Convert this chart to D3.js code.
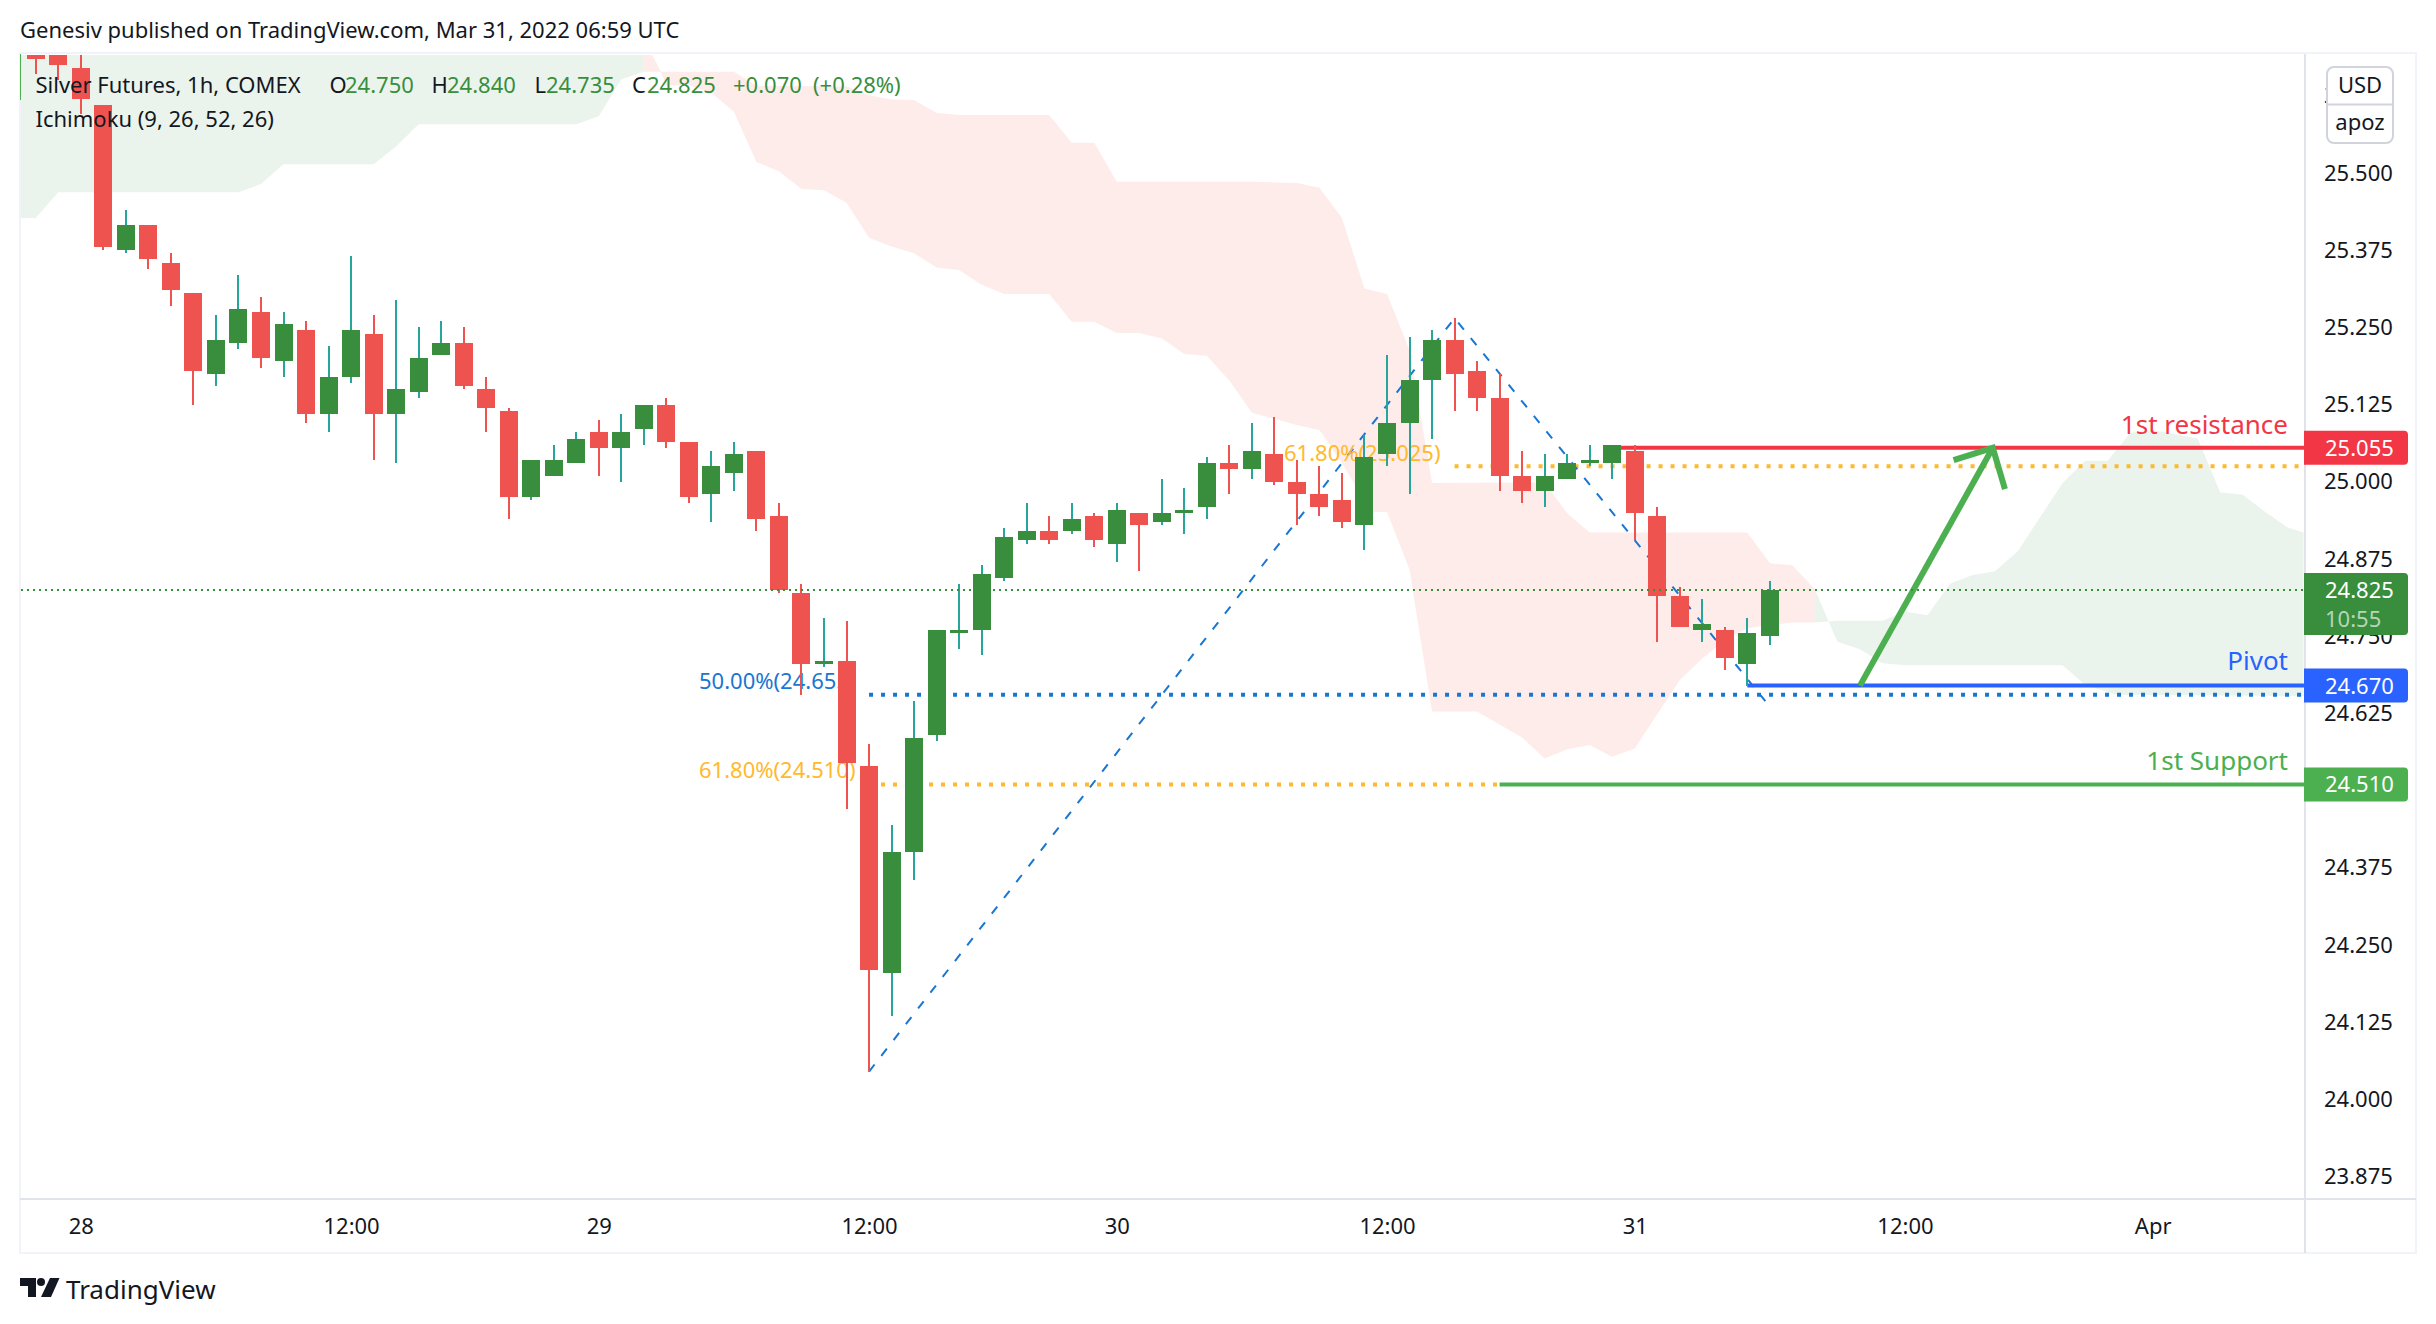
<!DOCTYPE html>
<html lang="en">
<head>
<meta charset="UTF-8">
<title>Silver Futures, 1h, COMEX</title>
<script src="https://d3js.org/d3.v7.min.js"></script>
<style>
  html, body { margin: 0; padding: 0; background: #fff; }
  svg { display: block; }
  text { font-family: "Noto Sans", "Lato", sans-serif; fill: #131722; }
</style>
</head>
<body>
<div id="chart"></div>
<script>
// hourly candles
const opens = [25.70,25.695,25.67,25.61,25.375,25.415,25.355,25.305,25.175,25.225,25.275,25.195,25.245,25.11,25.17,25.24,25.11,25.145,25.205,25.225,25.15,25.115,24.975,25.01,25.03,25.08,25.055,25.085,25.125,25.065,24.98,25.015,25.05,24.945,24.82,24.705,24.71,24.54,24.205,24.40,24.59,24.755,24.76,24.845,24.905,24.92,24.92,24.945,24.90,24.95,24.935,24.95,24.96,25.03,25.02,25.045,25.0,24.98,24.97,24.93,25.045,25.095,25.165,25.23,25.18,25.135,25.01,24.985,25.005,25.03,25.03,25.05,24.945,24.815,24.76,24.76,24.705,24.75];
const highs = [25.71,25.70,25.70,25.61,25.44,25.415,25.37,25.305,25.27,25.335,25.30,25.275,25.26,25.22,25.365,25.27,25.295,25.25,25.26,25.25,25.17,25.12,25.035,25.06,25.08,25.10,25.11,25.125,25.135,25.065,25.05,25.065,25.05,24.965,24.835,24.78,24.775,24.575,24.445,24.645,24.76,24.835,24.865,24.925,24.965,24.945,24.965,24.95,24.965,24.95,25.005,24.99,25.04,25.06,25.095,25.105,25.035,25.025,25.015,25.075,25.205,25.235,25.245,25.265,25.195,25.175,25.05,25.045,25.045,25.06,25.06,25.06,24.96,24.83,24.81,24.765,24.78,24.84];
const lows = [25.66,25.65,25.595,25.375,25.37,25.345,25.285,25.125,25.155,25.215,25.185,25.17,25.095,25.08,25.16,25.035,25.03,25.135,25.205,25.15,25.08,24.94,24.97,25.01,25.03,25.01,25.0,25.06,25.055,24.965,24.935,24.985,24.92,24.82,24.655,24.70,24.47,24.045,24.135,24.355,24.58,24.73,24.72,24.84,24.90,24.90,24.915,24.895,24.87,24.855,24.93,24.915,24.94,24.98,25.005,24.995,24.93,24.945,24.925,24.89,25.025,24.98,25.07,25.115,25.115,24.985,24.965,24.96,25.005,25.025,25.005,24.905,24.74,24.765,24.74,24.695,24.67,24.735];
const closes = [25.685,25.675,25.62,25.38,25.415,25.36,25.31,25.18,25.23,25.28,25.20,25.255,25.11,25.17,25.245,25.11,25.15,25.20,25.225,25.155,25.12,24.975,25.035,25.035,25.07,25.055,25.08,25.125,25.065,24.975,25.025,25.045,24.94,24.825,24.705,24.71,24.545,24.21,24.40,24.585,24.76,24.76,24.85,24.91,24.92,24.905,24.94,24.905,24.955,24.93,24.95,24.955,25.03,25.02,25.05,25.0,24.98,24.96,24.935,25.04,25.095,25.165,25.23,25.175,25.135,25.01,24.985,25.01,25.03,25.035,25.06,24.95,24.815,24.765,24.77,24.715,24.755,24.825];

// ichimoku cloud outlines (bar number, price)
const greenTopBars = [-1,0,1,9,10,11,15,16,17,24,25,26,27,27,-1];
const greenTopPrices = [25.427,25.427,25.469,25.469,25.482,25.514,25.514,25.543,25.579,25.579,25.592,25.652,25.664,25.72,25.72];
const redUpperBars = [27,27.35,27.76,31,32,34,36,37,38,39,40,41,45,46,47,48,54,56,57,58,59,60,61,62,67,68,69,76,77,78,79];
const redUpperPrices = [25.72,25.693,25.664,25.664,25.641,25.641,25.640,25.626,25.619,25.618,25.597,25.594,25.594,25.549,25.549,25.486,25.486,25.484,25.476,25.427,25.313,25.304,25.213,24.998,24.999,24.949,24.918,24.918,24.868,24.865,24.826];
const redLowerBars = [79,78,77,76,75,74,73,71,70,69,68,67,66,64,62,61,60,59.3,58,57,56,54,53,52,51,50,49,48,47,46,45,43,42,41,40,39,38,37,36,35,34,33,32,31,30,29,28,27.76,27];
const redLowerPrices = [24.772,24.772,24.768,24.763,24.744,24.714,24.679,24.568,24.555,24.574,24.567,24.552,24.586,24.628,24.628,24.858,24.951,24.951,25.03,25.084,25.092,25.112,25.164,25.204,25.207,25.232,25.241,25.241,25.259,25.259,25.304,25.304,25.319,25.343,25.347,25.370,25.381,25.395,25.452,25.472,25.474,25.503,25.518,25.599,25.630,25.642,25.642,25.664,25.664];
const greenRightBars = [79,80,82,83,84,85,86,87,88,90,91,92,93,94,96,97,98,99,100,100.7,100.7,92.4,91,90,83,82,81,80,79];
const greenRightPrices = [24.772,24.775,24.775,24.790,24.784,24.835,24.849,24.855,24.887,24.998,25.034,25.034,25.079,25.084,25.070,24.983,24.979,24.951,24.926,24.918,24.653,24.655,24.671,24.703,24.703,24.706,24.729,24.741,24.826];

// axes
const priceTicks = [25.625,25.5,25.375,25.25,25.125,25,24.875,24.75,24.625,24.375,24.25,24.125,24,23.875];
const timeTickBars = [2,14,25,37,48,60,71,83,94];
const timeTickLabels = ["28","12:00","29","12:00","30","12:00","31","12:00","Apr"];

// drawings
const fibBars = [37,63,76.8];
const fibPrices = [24.045,25.265,24.645];
const lastPrice = 24.825;
const resistance = 25.055, pivot = 24.67, support = 24.51;
const fib50 = 24.655, fib618Low = 24.51, fib618High = 25.025;
const arrowBars = [81,86.9], arrowPrices = [24.67,25.055];
const arrowHeadBars = [85.16,86.9,87.44], arrowHeadPrices = [25.035,25.055,24.988];

const W = 2436, H = 1324;
const pane = {left: 21, top: 55, right: 2305, bottom: 1199};
const RED = "#ef5350", GREEN = "#388e3c", TEAL = "#26a69a";
const LINE_GREEN = "#4caf50", LINE_BLUE = "#2962ff", LINE_RED = "#f23645";
const FIB_BLUE = "#1976d2", FIB_ORANGE = "#ffb92e";

const x = d3.scaleLinear().domain([0, 100]).range([35.8, 2287.8]);
const y = d3.scaleLinear().domain([25.5, 23.875]).range([173, 1176.6]);

const svg = d3.select("#chart").append("svg").attr("width", W).attr("height", H);

svg.append("defs").append("clipPath").attr("id", "pane")
  .append("rect")
    .attr("x", pane.left).attr("y", pane.top)
    .attr("width", pane.right - pane.left).attr("height", pane.bottom - pane.top);

const g = svg.append("g").attr("clip-path", "url(#pane)");

// cloud
const poly = d3.line().x(d => x(d[0])).y(d => y(d[1]));
g.append("path").attr("d", poly(d3.zip(greenTopBars, greenTopPrices)) + "Z").attr("fill", "#ebf4ec");
g.append("path").attr("d", poly(d3.zip(redUpperBars.concat(redLowerBars), redUpperPrices.concat(redLowerPrices))) + "Z").attr("fill", "#fdecea");
g.append("path").attr("d", poly(d3.zip(greenRightBars, greenRightPrices)) + "Z").attr("fill", "#ebf4ec");

// fib levels and their labels sit under the candles
function dotted(b0, b1, p, color) {
  g.append("line")
    .attr("x1", x(b0)).attr("x2", b1 === null ? pane.right : x(b1))
    .attr("y1", y(p)).attr("y2", y(p))
    .attr("stroke", color).attr("stroke-width", 4).attr("stroke-dasharray", "4 8");
}
dotted(37, null, fib50, FIB_BLUE);
dotted(37, 65, fib618Low, FIB_ORANGE);
dotted(63, null, fib618High, FIB_ORANGE);

g.append("path")
  .attr("d", poly(d3.zip(fibBars, fibPrices)))
  .attr("fill", "none").attr("stroke", FIB_BLUE).attr("stroke-width", 2).attr("stroke-dasharray", "9 11");

function fibLabel(px, py, s, color) {
  g.append("text").attr("x", px).attr("y", py).attr("dy", "0.36em")
    .style("fill", color).style("font-size", "22px").text(s);
}
fibLabel(699, 681, "50.00%(24.655)", FIB_BLUE);
fibLabel(699, 770, "61.80%(24.510)", FIB_ORANGE);
fibLabel(1284, 453, "61.80%(25.025)", FIB_ORANGE);

// horizontal levels
function level(b0, p, color) {
  g.append("line")
    .attr("x1", x(b0)).attr("x2", pane.right)
    .attr("y1", y(p)).attr("y2", y(p))
    .attr("stroke", color).attr("stroke-width", 4);
}
level(70, resistance, LINE_RED);
level(76, pivot, LINE_BLUE);
level(65, support, LINE_GREEN);

// arrow
g.append("path").attr("d", poly(d3.zip(arrowBars, arrowPrices)))
  .attr("fill", "none").attr("stroke", LINE_GREEN).attr("stroke-width", 6);
g.append("path").attr("d", poly(d3.zip(arrowHeadBars, arrowHeadPrices)))
  .attr("fill", "none").attr("stroke", LINE_GREEN).attr("stroke-width", 6);

// candles
const bars = g.append("g").attr("shape-rendering", "crispEdges")
  .selectAll("g").data(d3.range(opens.length)).join("g");
bars.append("rect")
  .attr("x", i => Math.round(x(i)) - 1).attr("width", 2)
  .attr("y", i => y(highs[i])).attr("height", i => y(lows[i]) - y(highs[i]))
  .attr("fill", i => closes[i] >= opens[i] ? TEAL : RED);
bars.append("rect")
  .attr("x", i => Math.round(x(i)) - 9).attr("width", 18)
  .attr("y", i => y(Math.max(opens[i], closes[i])))
  .attr("height", i => Math.max(2, Math.abs(y(opens[i]) - y(closes[i]))))
  .attr("fill", i => closes[i] >= opens[i] ? GREEN : RED);

// last price line
g.append("line")
  .attr("x1", pane.left).attr("x2", pane.right)
  .attr("y1", y(lastPrice)).attr("y2", y(lastPrice))
  .attr("stroke", GREEN).attr("stroke-width", 2).attr("stroke-dasharray", "2 4");

// level names
function levelName(py, s, color) {
  svg.append("text").attr("x", 2288).attr("y", py).attr("dy", "0.36em")
    .attr("text-anchor", "end").style("fill", color).style("font-size", "26px").text(s);
}
levelName(425, "1st resistance", LINE_RED);
levelName(661, "Pivot", LINE_BLUE);
levelName(761, "1st Support", LINE_GREEN);

// frame
const frame = svg.append("g").attr("shape-rendering", "crispEdges");
frame.append("rect").attr("x", 20).attr("y", 53).attr("width", 2396).attr("height", 1200)
  .attr("fill", "none").attr("stroke", "#f0f3fa").attr("stroke-width", 2);
frame.append("line").attr("x1", pane.right).attr("x2", pane.right).attr("y1", 54).attr("y2", 1253)
  .attr("stroke", "#e0e3eb").attr("stroke-width", 2);
frame.append("line").attr("x1", 20).attr("x2", 2416).attr("y1", pane.bottom).attr("y2", pane.bottom)
  .attr("stroke", "#e0e3eb").attr("stroke-width", 2);
frame.append("line").attr("x1", 20.5).attr("x2", 20.5).attr("y1", 54).attr("y2", 100)
  .attr("stroke", LINE_GREEN).attr("stroke-width", 1.5);

// axes
const yAxis = svg.append("g").attr("transform", `translate(${pane.right},0)`)
  .call(d3.axisRight(y).tickValues(priceTicks).tickFormat(d3.format(".3f")).tickSize(0).tickPadding(19));
yAxis.select(".domain").remove();
yAxis.selectAll("text").style("font-size", "22px").attr("fill", null);

const xAxis = svg.append("g").attr("transform", `translate(0,${pane.bottom})`)
  .call(d3.axisBottom(x).tickValues(timeTickBars).tickFormat((d, i) => timeTickLabels[i]).tickSize(0).tickPadding(19));
xAxis.select(".domain").remove();
xAxis.selectAll("text").style("font-size", "22px").attr("fill", null);

// price tags on the scale
function tag(p, h, color, label) {
  const cy = y(p), top = cy - 17;
  svg.append("path")
    .attr("d", `M${pane.right - 1},${top}H2404a4,4 0 0 1 4,4V${top + h - 4}a4,4 0 0 1 -4,4H${pane.right - 1}Z`)
    .attr("fill", color);
  svg.append("text").attr("x", 2325).attr("y", cy).attr("dy", "0.36em")
    .style("fill", "#fff").style("font-size", "22px").text(label);
}
tag(resistance, 34, LINE_RED, d3.format(".3f")(resistance));
tag(lastPrice, 62, GREEN, d3.format(".3f")(lastPrice));
svg.append("text").attr("x", 2325).attr("y", 619).attr("dy", "0.36em")
  .style("fill", "#b7d5b9").style("font-size", "22px").text("10:55");
tag(pivot, 34, LINE_BLUE, d3.format(".3f")(pivot));
tag(support, 34, LINE_GREEN, d3.format(".3f")(support));

// currency / unit badge
svg.append("rect").attr("x", 2327).attr("y", 67).attr("width", 66).attr("height", 76).attr("rx", 7)
  .attr("fill", "#fff").attr("stroke", "#d1d4dc").attr("stroke-width", 2);
svg.append("line").attr("x1", 2327).attr("x2", 2393).attr("y1", 104.5).attr("y2", 104.5)
  .attr("stroke", "#d1d4dc").attr("stroke-width", 2);
svg.append("text").attr("x", 2360).attr("y", 85).attr("dy", "0.36em").attr("text-anchor", "middle")
  .style("font-size", "22px").text("USD");
svg.append("text").attr("x", 2360).attr("y", 122).attr("dy", "0.36em").attr("text-anchor", "middle")
  .style("font-size", "22px").text("apoz");

// header and legend
svg.append("text").attr("x", 20).attr("y", 30).attr("dy", "0.36em").style("font-size", "22px")
  .text("Genesiv published on TradingView.com, Mar 31, 2022 06:59 UTC");

const legendParts = [
  [35.5, "Silver Futures, 1h, COMEX", "#131722"], [329.5, "O", "#131722"], [345, "24.750", GREEN],
  [431.5, "H", "#131722"], [447, "24.840", GREEN], [534.5, "L", "#131722"], [546, "24.735", GREEN],
  [632, "C", "#131722"], [647, "24.825", GREEN], [733, "+0.070", GREEN], [813, "(+0.28%)", GREEN]
];
legendParts.forEach(d => {
  svg.append("text").attr("x", d[0]).attr("y", 85).attr("dy", "0.36em")
    .style("fill", d[2]).style("font-size", "22px").text(d[1]);
});
svg.append("text").attr("x", 35.5).attr("y", 119).attr("dy", "0.36em").style("font-size", "22px")
  .text("Ichimoku (9, 26, 52, 26)");

// logo
svg.append("path").attr("d", "M20,1278H36V1297H28V1286H20Z").attr("fill", "#131722");
svg.append("circle").attr("cx", 41).attr("cy", 1282).attr("r", 4).attr("fill", "#131722");
svg.append("path").attr("d", "M50,1278H59.5L51,1297H41Z").attr("fill", "#131722");
svg.append("text").attr("x", 66).attr("y", 1290).attr("dy", "0.36em").style("font-size", "26px").text("TradingView");
</script>
</body>
</html>
